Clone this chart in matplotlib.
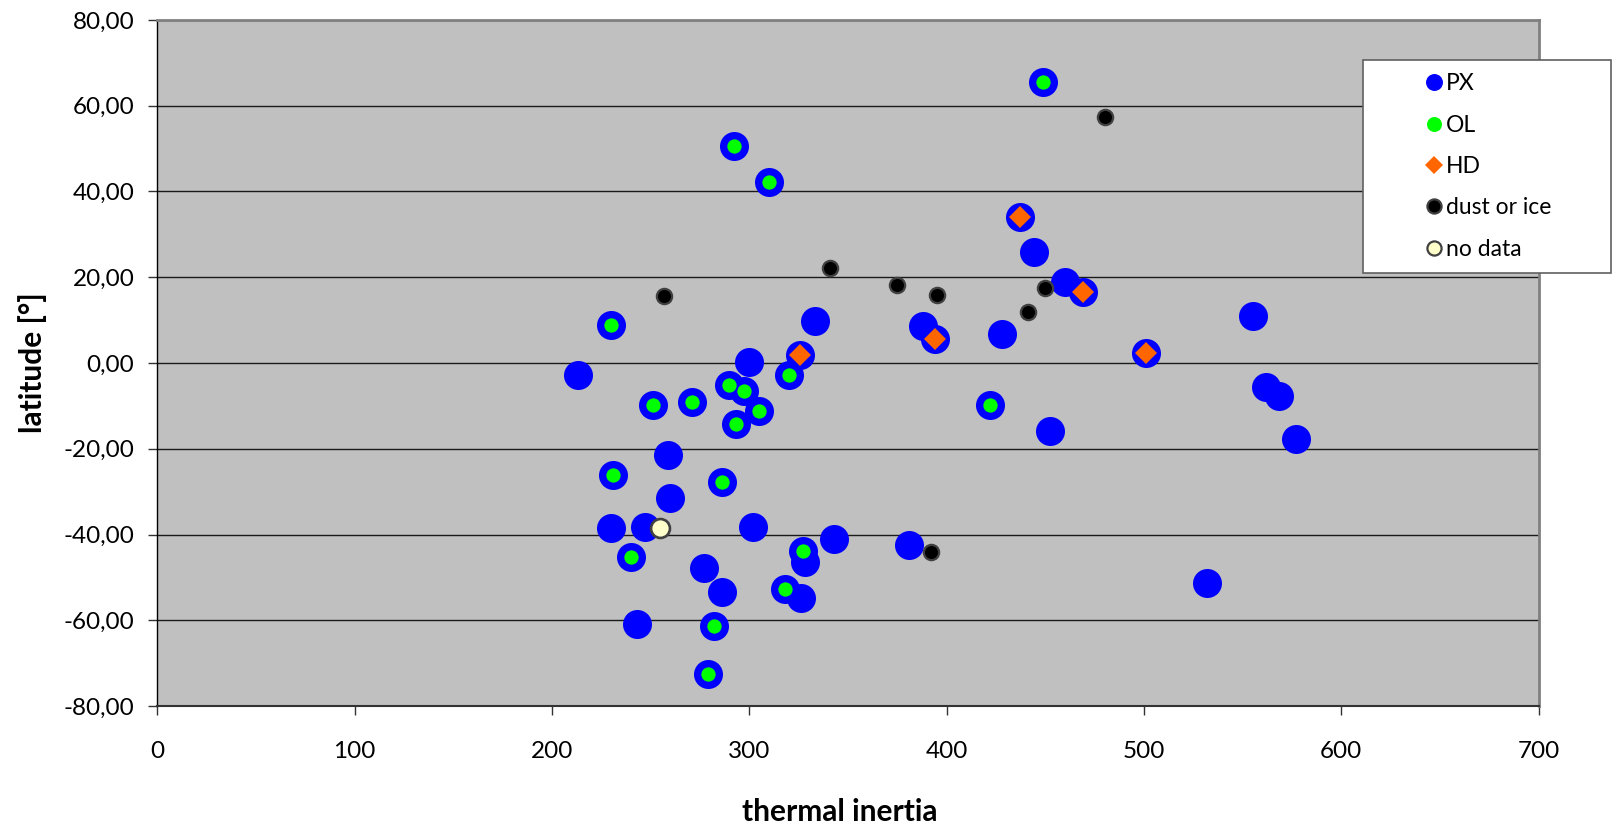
import matplotlib
matplotlib.use("Agg")
import matplotlib.pyplot as plt
from matplotlib.lines import Line2D
from matplotlib.ticker import FuncFormatter

plt.rcParams["font.family"] = ["Lato", "DejaVu Sans"]

# ---- data: thermal inertia vs latitude per site ----
px_inertia = [213.1, 229.9, 251.1, 270.9, 259.0, 230.9, 260.0, 229.9, 247.2, 239.9,
              243.1, 292.1, 310.2, 449.1, 437.1, 444.2, 460.2, 469.2, 333.2, 387.9,
              394.1, 428.1, 325.9, 501.2, 300.0, 320.0, 289.9, 297.2, 305.0, 293.1,
              422.2, 452.3, 286.0, 302.1, 343.0, 381.1, 327.3, 328.1, 277.1, 286.0,
              318.0, 326.1, 282.1, 279.1, 555.2, 562.1, 568.3, 577.1, 532.2]
px_latitude = [-2.7, 8.9, -9.8, -9.2, -21.5, -26.2, -31.6, -38.6, -38.3, -45.2,
               -60.8, 50.7, 42.3, 65.5, 34.1, 25.9, 19.0, 16.5, 9.7, 8.7,
               5.7, 6.7, 1.9, 2.3, 0.2, -2.9, -5.2, -6.6, -11.1, -14.2,
               -9.7, -15.9, -27.7, -38.3, -41.0, -42.4, -43.9, -46.5, -47.9, -53.5,
               -52.8, -54.9, -61.4, -72.6, 10.9, -5.5, -7.6, -17.7, -51.4]

ol_inertia = [229.9, 251.1, 270.9, 230.9, 239.9, 292.1, 310.2, 449.1, 320.0, 289.9,
              297.2, 305.0, 293.1, 422.2, 286.0, 327.3, 318.0, 282.1, 279.1]
ol_latitude = [8.9, -9.8, -9.2, -26.2, -45.2, 50.7, 42.3, 65.5, -2.9, -5.2,
               -6.6, -11.1, -14.2, -9.7, -27.7, -43.9, -52.8, -61.4, -72.6]

hd_inertia = [437.1, 469.2, 394.1, 325.9, 501.2]
hd_latitude = [34.1, 16.5, 5.7, 1.9, 2.3]

dust_inertia = [257.0, 341.1, 375.0, 395.0, 441.1, 450.1, 480.1, 392.1]
dust_latitude = [15.7, 22.1, 18.1, 15.9, 12.0, 17.4, 57.3, -44.1]

nodata_inertia = [254.9]
nodata_latitude = [-38.5]

series_names = ["PX", "OL", "HD", "dust or ice", "no data"]
y_ticks = [-80, -60, -40, -20, 0, 20, 40, 60, 80]
x_ticks = [0, 100, 200, 300, 400, 500, 600, 700]

# ---- styles ----
BLUE = "#0000FF"
GREEN = "#00FF00"
ORANGE = "#FF6600"
RIM = "#404040"
CREAM = "#FFFFCC"

fig = plt.figure(figsize=(16.12, 8.30), dpi=100)
ax = fig.add_axes([157.3 / 1612, 124 / 830, 1381.2 / 1612, 686 / 830])
ax.set_facecolor("#C0C0C0")

ax.plot(px_inertia, px_latitude, ls="none", marker="o", ms=20.9,
        mfc=BLUE, mec=BLUE, mew=0, zorder=3)
ax.plot(ol_inertia, ol_latitude, ls="none", marker="o", ms=10.3,
        mfc=GREEN, mec=GREEN, mew=0, zorder=4)
ax.plot(hd_inertia, hd_latitude, ls="none", marker="D", ms=11.5,
        mfc=ORANGE, mec=ORANGE, mew=0, zorder=4)
ax.plot(dust_inertia, dust_latitude, ls="none", marker="o", ms=11.0,
        mfc="black", mec=RIM, mew=1.6, zorder=5)
ax.plot(nodata_inertia, nodata_latitude, ls="none", marker="o", ms=13.6,
        mfc=CREAM, mec=RIM, mew=1.9, zorder=5)

ax.set_xlim(0, 700)
ax.set_ylim(-80, 80)
ax.set_xticks(x_ticks)
ax.set_yticks(y_ticks)
ax.yaxis.set_major_formatter(FuncFormatter(lambda v, p: f"{v:.2f}".replace(".", ",")))
ax.grid(axis="y", color="#1a1a1a", lw=1.0, zorder=1)
ax.set_axisbelow(True)

for side in ("top", "right"):
    ax.spines[side].set_color("#808080")
    ax.spines[side].set_linewidth(2.0)
ax.spines["left"].set_color("black")
ax.spines["bottom"].set_color("#333333")
ax.spines["left"].set_linewidth(1.0)
ax.spines["bottom"].set_linewidth(1.5)

ax.tick_params(axis="both", direction="out", length=6.5, width=1.0,
               color="#333333", labelsize=17.5, labelcolor="black")
ax.tick_params(axis="x", pad=19)
ax.tick_params(axis="y", pad=10)

ax.set_xlabel("thermal inertia", fontsize=21.5, fontweight="bold", va="center")
ax.xaxis.set_label_coords(0.494, -0.1545)
ax.set_ylabel("latitude [°]", fontsize=21.5, fontweight="bold", va="center")
ax.yaxis.set_label_coords(-0.090, 0.5)

handles = [
    Line2D([], [], ls="none", marker="o", ms=12.2, mfc=BLUE, mec=BLUE, mew=0),
    Line2D([], [], ls="none", marker="o", ms=10.8, mfc=GREEN, mec=GREEN, mew=0),
    Line2D([], [], ls="none", marker="D", ms=9.0, mfc=ORANGE, mec=ORANGE, mew=0),
    Line2D([], [], ls="none", marker="o", ms=10.2, mfc="black", mec=RIM, mew=1.6),
    Line2D([], [], ls="none", marker="o", ms=10.2, mfc=CREAM, mec=RIM, mew=1.6),
]
leg = fig.legend(handles, series_names, loc="upper left",
                 bbox_to_anchor=(1363 / 1612, 1 - 268 / 830, 248 / 1612, 208 / 830),
                 bbox_transform=fig.transFigure, mode="expand", borderaxespad=0,
                 fontsize=16.5, frameon=True, fancybox=False, numpoints=1,
                 handlelength=5.0, handletextpad=-1.95, borderpad=0.58,
                 labelspacing=0.89)
frame = leg.get_frame()
frame.set_facecolor("white")
frame.set_edgecolor("#606060")
frame.set_linewidth(1.2)
frame.set_alpha(1.0)

fig.savefig("out.png", dpi=100)
